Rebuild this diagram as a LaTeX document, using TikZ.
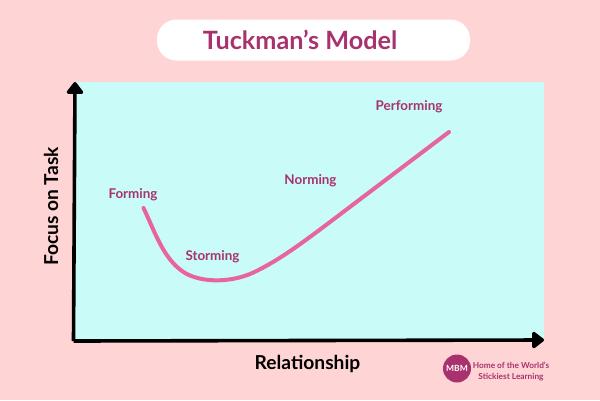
\documentclass[tikz,border=0pt]{standalone}
\usepackage{fontspec}
\setmainfont{Lato}
\usetikzlibrary{arrows.meta}
\definecolor{bgpink}{HTML}{FFD4D4}
\definecolor{panel}{HTML}{C9FBF8}
\definecolor{plum}{HTML}{A8326E}
\definecolor{curvepink}{HTML}{E7659B}
\tikzset{
  stage/.style={text=plum,font=\fontsize{13.4}{15}\selectfont\bfseries,inner sep=0pt},
  axislabel/.style={text=black,font=\fontsize{19.2}{22}\selectfont\bfseries,inner sep=0pt},
  axisline/.style={line width=3.6pt,-{Triangle[length=13pt,width=19pt,round]},line join=round}
}
\begin{document}
\begin{tikzpicture}[x=1pt,y=-1pt]
\useasboundingbox (0,0) rectangle (600,400);
\fill[bgpink] (0,0) rectangle (600,400);
\fill[panel] (73,82) rectangle (544,341);
\fill[white,rounded corners=19.5pt] (157,19.5) rectangle (470,60.5);
\node[text=plum,font=\fontsize{25.2}{28}\selectfont\bfseries,inner sep=0pt] (title) at (300,39.5) {Tuckman’s Model};
\coordinate (origin) at (73.5,341);
\coordinate (ytip) at (75,82);
\coordinate (xtip) at (544,340);
\draw[axisline] (origin) -- (ytip);
\draw[axisline] (origin) -- (xtip);
\draw[curvepink,line width=4pt,line cap=round] (143.5,208)
  .. controls (155,232) and (163,258) .. (183,271.7)
  .. controls (198,282) and (228,284) .. (253,272.7)
  .. controls (280,260) and (306,240) .. (330,222)
  -- (449,132);
\node[stage] (forming) at (133,195) {Forming};
\node[stage] (storming) at (212.5,256.5) {Storming};
\node[stage] (norming) at (310.5,181) {Norming};
\node[stage] (performing) at (409,106.5) {Performing};
\node[axislabel,rotate=90] (ylabel) at (51,206.5) {Focus on Task};
\node[axislabel] (xlabel) at (307.5,364) {Relationship};
\node[circle,fill=plum,minimum size=28pt,inner sep=0pt,text=white,font=\fontsize{8.5}{10}\selectfont\bfseries] (logo) at (457,368.5) {MBM};
\node[text=plum,align=center,inner sep=0pt,font=\fontsize{8.3}{10.5}\selectfont\bfseries] (tag) at (511,371.5) {Home of the World’s\\Stickiest Learning};
\end{tikzpicture}
\end{document}
